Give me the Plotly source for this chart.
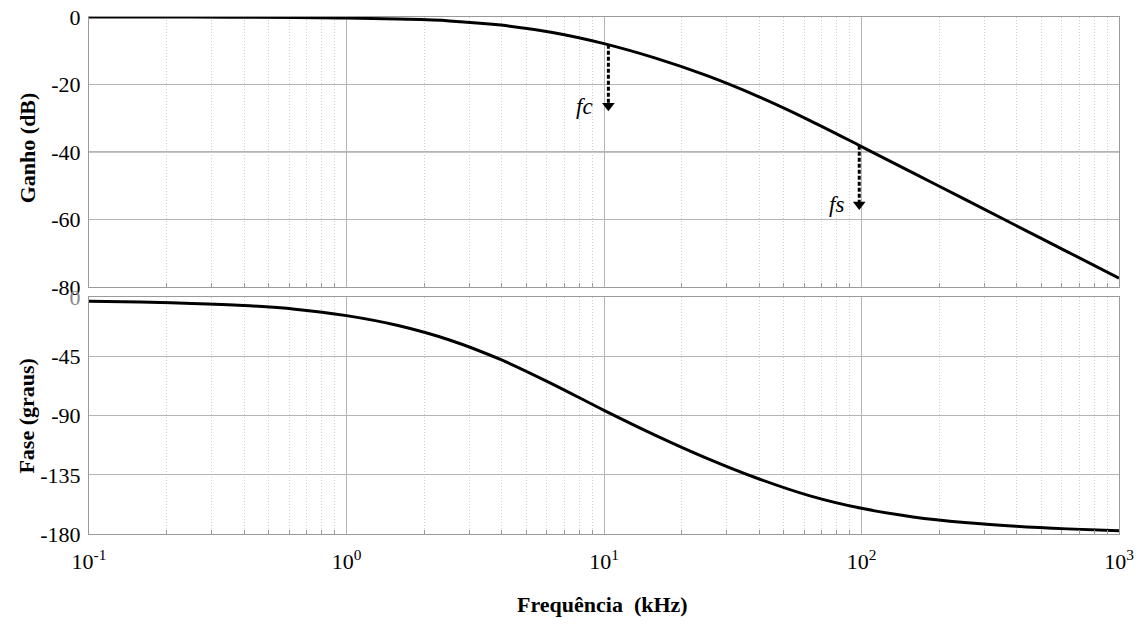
import math
import plotly.graph_objects as go

# ---- data (frequencies in kHz, 5 points per decade) ----
freq = [0.1, 0.158, 0.251, 0.398, 0.631, 1, 1.585, 2.512, 3.981, 6.31, 10,
        15.85, 25.12, 39.81, 63.1, 100, 158.5, 251.2, 398.1, 631, 1000]
gain_db = [0, -0.01, -0.02, -0.05, -0.12, -0.3, -0.62, -1.15, -2.4, -4.6, -7.9,
           -12.2, -17.4, -23.6, -30.7, -38.4, -46.2, -54.0, -61.8, -69.6, -77.4]
phase_deg = [-3, -3.7, -4.7, -6.3, -9.1, -14, -21.5, -32.5, -47.5, -66, -86,
             -105, -122.5, -138, -151, -160.5, -167, -171.3, -174.1, -176.1, -177.6]

# markers (fc, fs)
marker_names = ["fc", "fs"]
marker_freq = [10.4, 98]
marker_top = [-8.2, -38.2]
marker_tip = [-26.3, -55.6]
label_freq = [8.4, 80.3]
label_db = [-26.5, -55.5]

gain_ticks = [0, -20, -40, -60, -80]
phase_ticks = [0, -45, -90, -135, -180]
x_ticks = [0.1, 1, 10, 100, 1000]
x_ticktext = ["10<sup>-1</sup>", "10<sup>0</sup>", "10<sup>1</sup>", "10<sup>2</sup>", "10<sup>3</sup>"]
minor_vals = [m * d for d in [0.1, 1, 10, 100] for m in range(2, 10)]

FONT = "Liberation Serif, Times New Roman, serif"
MAJ = "#b4b4b4"
MIN = "#cfcfcf"
BORDER = "#9a9a9a"

fig = go.Figure()
fig.add_trace(go.Scatter(x=freq, y=gain_db, mode="lines",
                         line=dict(color="black", width=3, shape="spline", smoothing=1),
                         xaxis="x", yaxis="y", showlegend=False))
fig.add_trace(go.Scatter(x=freq, y=phase_deg, mode="lines",
                         line=dict(color="black", width=3, shape="spline", smoothing=1),
                         xaxis="x2", yaxis="y2", showlegend=False))

for i in range(len(marker_names)):
    fig.add_trace(go.Scatter(x=[marker_freq[i], marker_freq[i]], y=[marker_top[i], marker_tip[i]], mode="lines",
                             line=dict(color="black", width=3, dash="4px,2px"),
                             xaxis="x", yaxis="y", showlegend=False))
    fig.add_trace(go.Scatter(x=[marker_freq[i]], y=[marker_tip[i]], mode="markers",
                             marker=dict(symbol="triangle-down", size=11, color="black", line=dict(width=0)),
                             xaxis="x", yaxis="y", showlegend=False))

annotations = []
for i, name in enumerate(marker_names):
    annotations.append(dict(x=math.log10(label_freq[i]), y=label_db[i], xref="x", yref="y",
                            text="<i>" + name + "</i>", showarrow=False,
                            font=dict(family=FONT, size=23, color="black")))

annotations += [
    dict(x=-0.0602, y=0.748, xref="paper", yref="paper", xanchor="center", yanchor="middle",
         text="<b>Ganho (dB)</b>", textangle=-90,
         showarrow=False, font=dict(family=FONT, size=22, color="black")),
    dict(x=-0.0602, y=0.229, xref="paper", yref="paper", xanchor="center", yanchor="middle",
         text="<b>Fase (graus)</b>", textangle=-90,
         showarrow=False, font=dict(family=FONT, size=22, color="black")),
    dict(x=0.4985, y=-0.137, xref="paper", yref="paper", xanchor="center", yanchor="middle",
         text="<b>Frequência\u00a0\u00a0(kHz)</b>",
         showarrow=False, font=dict(family=FONT, size=22, color="black")),
]

xcommon = dict(type="log", range=[-1, 3], showline=True, linecolor=BORDER, linewidth=1, mirror=True,
               showgrid=True, gridcolor=MAJ, gridwidth=1, tickvals=x_ticks, zeroline=False,
               automargin=False,
               minor=dict(tickvals=minor_vals, showgrid=True, gridcolor=MIN, griddash="1px,2px", gridwidth=1,
                          ticks="inside", ticklen=4, tickcolor="#999999"),
               ticks="", tickfont=dict(family=FONT, size=22, color="black"))

ycommon = dict(showline=True, linecolor=BORDER, mirror=True, showgrid=True, gridcolor=MAJ, zeroline=False,
               ticks="", automargin=False, ticklabelstandoff=3,
               tickfont=dict(family=FONT, size=22, color="black"))

fig.update_layout(
    template="none",
    font=dict(family=FONT, color="black"),
    width=1146, height=626,
    margin=dict(l=89, r=27, t=17, b=92),
    paper_bgcolor="white", plot_bgcolor="white",
    xaxis=dict(**xcommon, domain=[0, 1], anchor="y", showticklabels=False),
    xaxis2=dict(**xcommon, domain=[0, 1], anchor="y2", ticktext=x_ticktext, showticklabels=True,
                ticklabelstandoff=8),
    yaxis=dict(**ycommon, domain=[0.478, 1], range=[-80, 0], tickvals=gain_ticks,
               ticktext=[str(v) for v in gain_ticks], anchor="x"),
    yaxis2=dict(**ycommon, domain=[0, 0.458], range=[-180, 0], tickvals=phase_ticks,
                ticktext=['<span style="color:#888888">0</span>'] + [str(v) for v in phase_ticks[1:]],
                anchor="x2"),
    annotations=annotations,
    shapes=[dict(type="line", xref="x domain", yref="y", x0=0, x1=1, y0=-40, y1=-40,
                 line=dict(color="#c4c4c4", width=2), layer="below")],
)

fig.write_html("out.html")
